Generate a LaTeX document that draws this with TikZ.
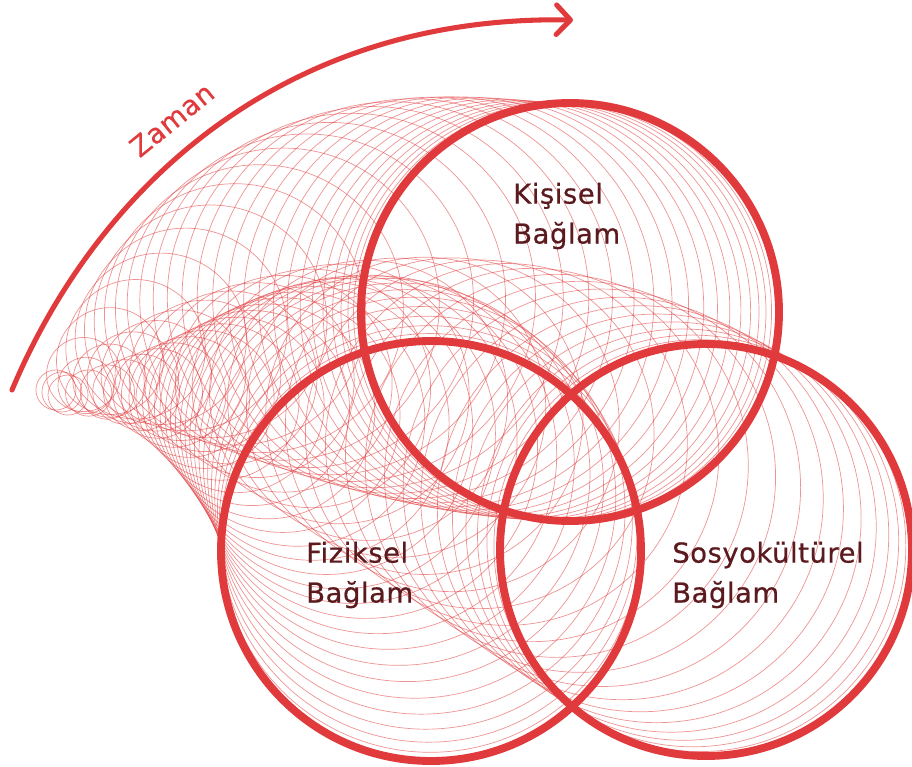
\documentclass[tikz,border=0pt]{standalone}
\usepackage{fontspec}
\setmainfont{DejaVu Sans}[LetterSpace=2,FakeBold=0.6]
\usepackage{tikz}
\usetikzlibrary{arrows.meta}
\definecolor{ctxred}{HTML}{E03A3C}
\definecolor{ctxtext}{HTML}{5A1A1E}

\begin{document}
\begin{tikzpicture}[
  x=0.025cm, y=-0.025cm,
  context/.style={draw=ctxred, line width=5.6pt},
  trail/.style={draw=ctxred, line width=0.5pt, draw opacity=0.55},
  ctxlabel/.style={text=ctxtext, align=left, anchor=west, inner sep=0pt,
                   font=\fontsize{19.5}{28.4}\selectfont},
  timeline/.style={draw=ctxred, line width=3.6pt, line cap=round,
                   -{Straight Barb[length=10pt,width=21pt,round]}}]

\useasboundingbox (0,0) rectangle (912,767);

% rings grow from (127,405), resting on a curve (control q, end b)
% middle/last radius, growth power, offset of the first small ring
\foreach \qx/\qy/\bx/\by/\rm/\rb/\ee/\ox/\oy in {
    376/521/570/521/85/209/3.8/-79.5/3.1,
    359/563/590/720/50/206/2/-76.3/3.5,
    221/517/221/551/30/210/1.3/-74.3/2.9}
{
  \foreach \i in {0,...,29}{
    \pgfmathsetmacro{\t}{\i/30}
    \pgfmathsetmacro{\g}{\t*\t*(3-2*\t)}
    \pgfmathsetmacro{\w}{(1-\t)^8}
    \pgfmathsetmacro{\rr}{\rb-(\rb-\rm)*(1-\g)^\ee-(\rm-20)*\w}
    \pgfmathsetmacro{\fx}{(1-\g)*(1-\g)*127+2*(1-\g)*\g*\qx+\g*\g*\bx}
    \pgfmathsetmacro{\fy}{(1-\g)*(1-\g)*405+2*(1-\g)*\g*\qy+\g*\g*\by}
    \pgfmathsetmacro{\tx}{(1-\g)*(\qx-127)+\g*(\bx-\qx)}
    \pgfmathsetmacro{\ty}{(1-\g)*(\qy-405)+\g*(\by-\qy)}
    \pgfmathsetmacro{\tl}{100*sqrt((\tx/100)^2+(\ty/100)^2)}
    \pgfmathsetmacro{\nx}{\ty/\tl}
    \pgfmathsetmacro{\ny}{-\tx/\tl}
    \pgfmathsetmacro{\px}{\fx+\rr*\nx+\w*\ox}
    \pgfmathsetmacro{\py}{\fy+\rr*\ny+\w*\oy}
    \draw[trail] (\px,\py) circle[radius=\rr];
  }
}

% the three contexts
\draw[context] (570,312) circle[radius=209];
\draw[context] (431,551) circle[radius=210];
\draw[context] (706,550) circle[radius=206];

\node[ctxlabel] (kisisel) at (513,216) {Kişisel\\Bağlam};
\node[ctxlabel] (fiziksel) at (306,575) {Fiziksel\\Bağlam};
\node[ctxlabel] (sosyo) at (672,575) {Sosyokültürel\\Bağlam};

% time arrow
\coordinate (tstart) at (12,390);
\coordinate (tend) at (573,20);
\draw[timeline] (tstart) .. controls (96,190) and (280,15) .. (tend)
  node[pos=0.46, sloped, above=14pt, inner sep=0pt, text=ctxred,
       font=\fontsize{19.5}{24}\selectfont] (zaman) {Zaman};
\end{tikzpicture}
\end{document}
